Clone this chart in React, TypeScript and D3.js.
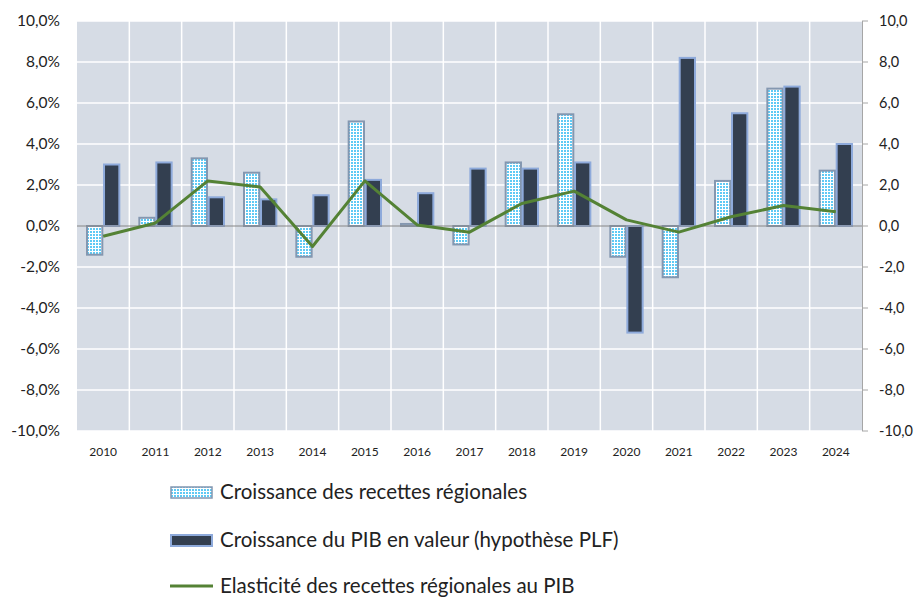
import React, { useEffect, useRef } from 'react';
import * as d3 from 'd3';

const years = ['2010', '2011', '2012', '2013', '2014', '2015', '2016', '2017', '2018', '2019', '2020', '2021', '2022', '2023', '2024'];
const recettes = [-1.4, 0.4, 3.3, 2.6, -1.5, 5.1, 0.1, -0.9, 3.1, 5.45, -1.5, -2.5, 2.2, 6.7, 2.7];
const pib = [3.0, 3.1, 1.4, 1.3, 1.5, 2.25, 1.6, 2.8, 2.8, 3.1, -5.2, 8.2, 5.5, 6.8, 4.0];
const elasticite = [-0.5, 0.15, 2.2, 1.9, -1.0, 2.2, 0.05, -0.3, 1.1, 1.7, 0.3, -0.3, 0.45, 1.0, 0.7];
const yTicks = [10, 8, 6, 4, 2, 0, -2, -4, -6, -8, -10];
const legendLabels = [
  'Croissance des recettes régionales',
  'Croissance du PIB en valeur (hypothèse PLF)',
  'Elasticité des recettes régionales au PIB',
];

const W = 919;
const H = 597;
const margin = { left: 77, right: 57, top: 21, bottom: 166 };
const font = 'Lato, "Noto Sans", sans-serif';

const App = () => {
  const svgRef = useRef(null);

  useEffect(() => {
    const svg = d3.select(svgRef.current);
    svg.selectAll('*').remove();

    const fmt = (v, pct) => d3.format('.1f')(v).replace('.', ',').replace('−', '-') + (pct ? '%' : '');

    const defs = svg.append('defs');
    const pat = defs.append('pattern')
      .attr('id', 'dots')
      .attr('width', 3)
      .attr('height', 3)
      .attr('patternUnits', 'userSpaceOnUse');
    pat.append('rect').attr('width', 3).attr('height', 3).attr('fill', '#ffffff');
    pat.append('rect').attr('x', 0).attr('y', 0).attr('width', 2).attr('height', 2).attr('fill', '#7fd6f8');
    pat.append('rect').attr('x', 0.5).attr('y', 0.5).attr('width', 1).attr('height', 1).attr('fill', '#00a9ef');

    const x0 = d3.scaleBand().domain(years).range([margin.left, W - margin.right]).padding(0);
    const x1 = d3.scaleBand().domain(['r', 'p']).range([10, x0.bandwidth() - 10]).paddingInner(0.1);
    const y = d3.scaleLinear().domain([-10, 10]).range([H - margin.bottom, margin.top]);

    // plot background
    svg.append('rect')
      .attr('x', margin.left)
      .attr('y', margin.top)
      .attr('width', W - margin.left - margin.right)
      .attr('height', H - margin.top - margin.bottom)
      .attr('fill', '#d6dce5');

    // gridlines
    svg.append('g')
      .selectAll('line')
      .data(yTicks.filter(t => t !== 0))
      .join('line')
      .attr('x1', margin.left)
      .attr('x2', W - margin.right)
      .attr('y1', d => y(d))
      .attr('y2', d => y(d))
      .attr('stroke', '#ffffff')
      .attr('stroke-width', 1.5);

    svg.append('g')
      .selectAll('line')
      .data(years.slice(1))
      .join('line')
      .attr('x1', d => x0(d))
      .attr('x2', d => x0(d))
      .attr('y1', margin.top)
      .attr('y2', H - margin.bottom)
      .attr('stroke', '#ffffff')
      .attr('stroke-width', 1.5);

    // bars
    const g = svg.append('g');
    g.selectAll('.rec')
      .data(years)
      .join('rect')
      .attr('x', (d) => x0(d) + x1('r'))
      .attr('width', x1.bandwidth())
      .attr('y', (d, i) => y(Math.max(0, recettes[i])))
      .attr('height', (d, i) => Math.abs(y(recettes[i]) - y(0)))
      .attr('fill', 'url(#dots)')
      .attr('stroke', '#8497b0')
      .attr('stroke-width', 2);

    g.selectAll('.pib')
      .data(years)
      .join('rect')
      .attr('x', (d) => x0(d) + x1('p'))
      .attr('width', x1.bandwidth())
      .attr('y', (d, i) => y(Math.max(0, pib[i])))
      .attr('height', (d, i) => Math.abs(y(pib[i]) - y(0)))
      .attr('fill', '#333f50')
      .attr('stroke', '#8eaadb')
      .attr('stroke-width', 2);

    // zero line
    svg.append('line')
      .attr('x1', margin.left)
      .attr('x2', W - margin.right)
      .attr('y1', y(0))
      .attr('y2', y(0))
      .attr('stroke', '#868686')
      .attr('stroke-width', 1);

    // elasticity line
    const line = d3.line()
      .x((d, i) => x0(years[i]) + x0.bandwidth() / 2)
      .y(d => y(d));
    svg.append('path')
      .datum(elasticite)
      .attr('d', line)
      .attr('fill', 'none')
      .attr('stroke', '#548235')
      .attr('stroke-width', 3)
      .attr('stroke-linejoin', 'round');

    // left axis labels
    svg.append('g')
      .selectAll('text')
      .data(yTicks)
      .join('text')
      .attr('x', 60)
      .attr('y', d => y(d))
      .attr('dy', '0.35em')
      .attr('text-anchor', 'end')
      .attr('font-family', font)
      .attr('font-size', 15.5)
      .attr('fill', '#222')
      .text(d => fmt(d, true));

    // right axis
    const ra = svg.append('g');
    ra.append('line')
      .attr('x1', W - margin.right + 0.5)
      .attr('x2', W - margin.right + 0.5)
      .attr('y1', margin.top)
      .attr('y2', H - margin.bottom)
      .attr('stroke', '#a6a6a6')
      .attr('stroke-width', 1);
    ra.selectAll('.tk')
      .data(yTicks)
      .join('line')
      .attr('x1', W - margin.right)
      .attr('x2', W - margin.right + 6)
      .attr('y1', d => y(d))
      .attr('y2', d => y(d))
      .attr('stroke', '#a6a6a6');
    ra.selectAll('text')
      .data(yTicks)
      .join('text')
      .attr('x', 879)
      .attr('y', d => y(d))
      .attr('dy', '0.35em')
      .attr('font-family', font)
      .attr('font-size', 14.5)
      .attr('fill', '#222')
      .text(d => fmt(d, false));

    // x labels
    svg.append('g')
      .selectAll('text')
      .data(years)
      .join('text')
      .attr('x', d => x0(d) + x0.bandwidth() / 2)
      .attr('y', 452)
      .attr('dy', '0.35em')
      .attr('text-anchor', 'middle')
      .attr('font-family', font)
      .attr('font-size', 12)
      .attr('fill', '#222')
      .text(d => d);

    // legend
    const lg = svg.append('g');
    const ly = [492, 540, 586];
    lg.append('rect').attr('x', 171).attr('y', ly[0] - 5).attr('width', 41).attr('height', 11)
      .attr('fill', 'url(#dots)').attr('stroke', '#8497b0').attr('stroke-width', 1.5);
    lg.append('rect').attr('x', 171).attr('y', ly[1] - 5).attr('width', 41).attr('height', 11)
      .attr('fill', '#333f50').attr('stroke', '#8eaadb').attr('stroke-width', 2);
    lg.append('line').attr('x1', 170).attr('x2', 213).attr('y1', ly[2]).attr('y2', ly[2])
      .attr('stroke', '#548235').attr('stroke-width', 3);
    lg.selectAll('text')
      .data(legendLabels)
      .join('text')
      .attr('x', 220)
      .attr('y', (d, i) => ly[i])
      .attr('dy', '0.35em')
      .attr('font-family', font)
      .attr('font-size', 20.5)
      .attr('fill', '#222')
      .text(d => d);
  }, []);

  return (
    <svg ref={svgRef} width={W} height={H} style={{ position: 'absolute', left: 0, top: 0, background: '#fff' }} />
  );
};

export default App;
